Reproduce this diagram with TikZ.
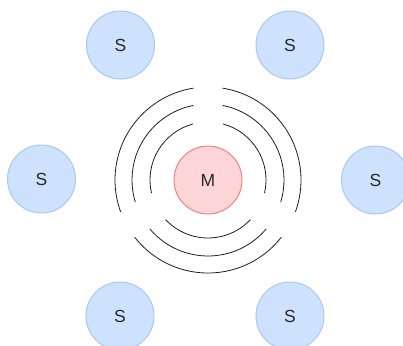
\documentclass[tikz,border=0pt]{standalone}
\usepackage{fontspec}
\setmainfont{Liberation Sans}
\definecolor{satfill}{RGB}{207,226,253}
\definecolor{satline}{RGB}{168,200,248}
\definecolor{mainfill}{RGB}{255,214,216}
\definecolor{mainline}{RGB}{245,130,130}
\definecolor{txt}{RGB}{40,40,40}
\begin{document}
\begin{tikzpicture}[x=1pt, y=1pt,
    sat/.style={circle, draw=satline, fill=satfill, line width=1pt,
        minimum size=68pt, inner sep=0pt, text=txt,
        font=\fontsize{17.5}{20}\selectfont},
    mainnode/.style={sat, draw=mainline, fill=mainfill},
    wave/.style={line width=0.8pt, draw={rgb,255:red,30;green,30;blue,30}}]
    \useasboundingbox (0, 0) rectangle (403, -345);
    \node[mainnode] (m) at (208, -180) {M};
    \path
        \foreach \n/\p in {
            s1/{120.5, -45},
            s2/{290, -45},
            s3/{41.5, -179},
            s4/{375.5, -180},
            s5/{120, -316},
            s6/{290, -316}} {
            (\p) node[sat] (\n) {S}
        };
    % waves round M: left, right and bottom arcs
    \draw[wave]
        \foreach \r/\a/\b/\c in {58/105/193/223, 76/101/197/220, 93/99/200/218} {
            (m.center) ++(\a:\r) arc[start angle=\a, end angle=\b, radius=\r]
            (m.center) ++({180-\a}:\r) arc[start angle={180-\a}, end angle={180-\b}, radius=\r]
            (m.center) ++(\c:\r) arc[start angle=\c, end angle={540-\c}, radius=\r]
        };
\end{tikzpicture}
\end{document}
